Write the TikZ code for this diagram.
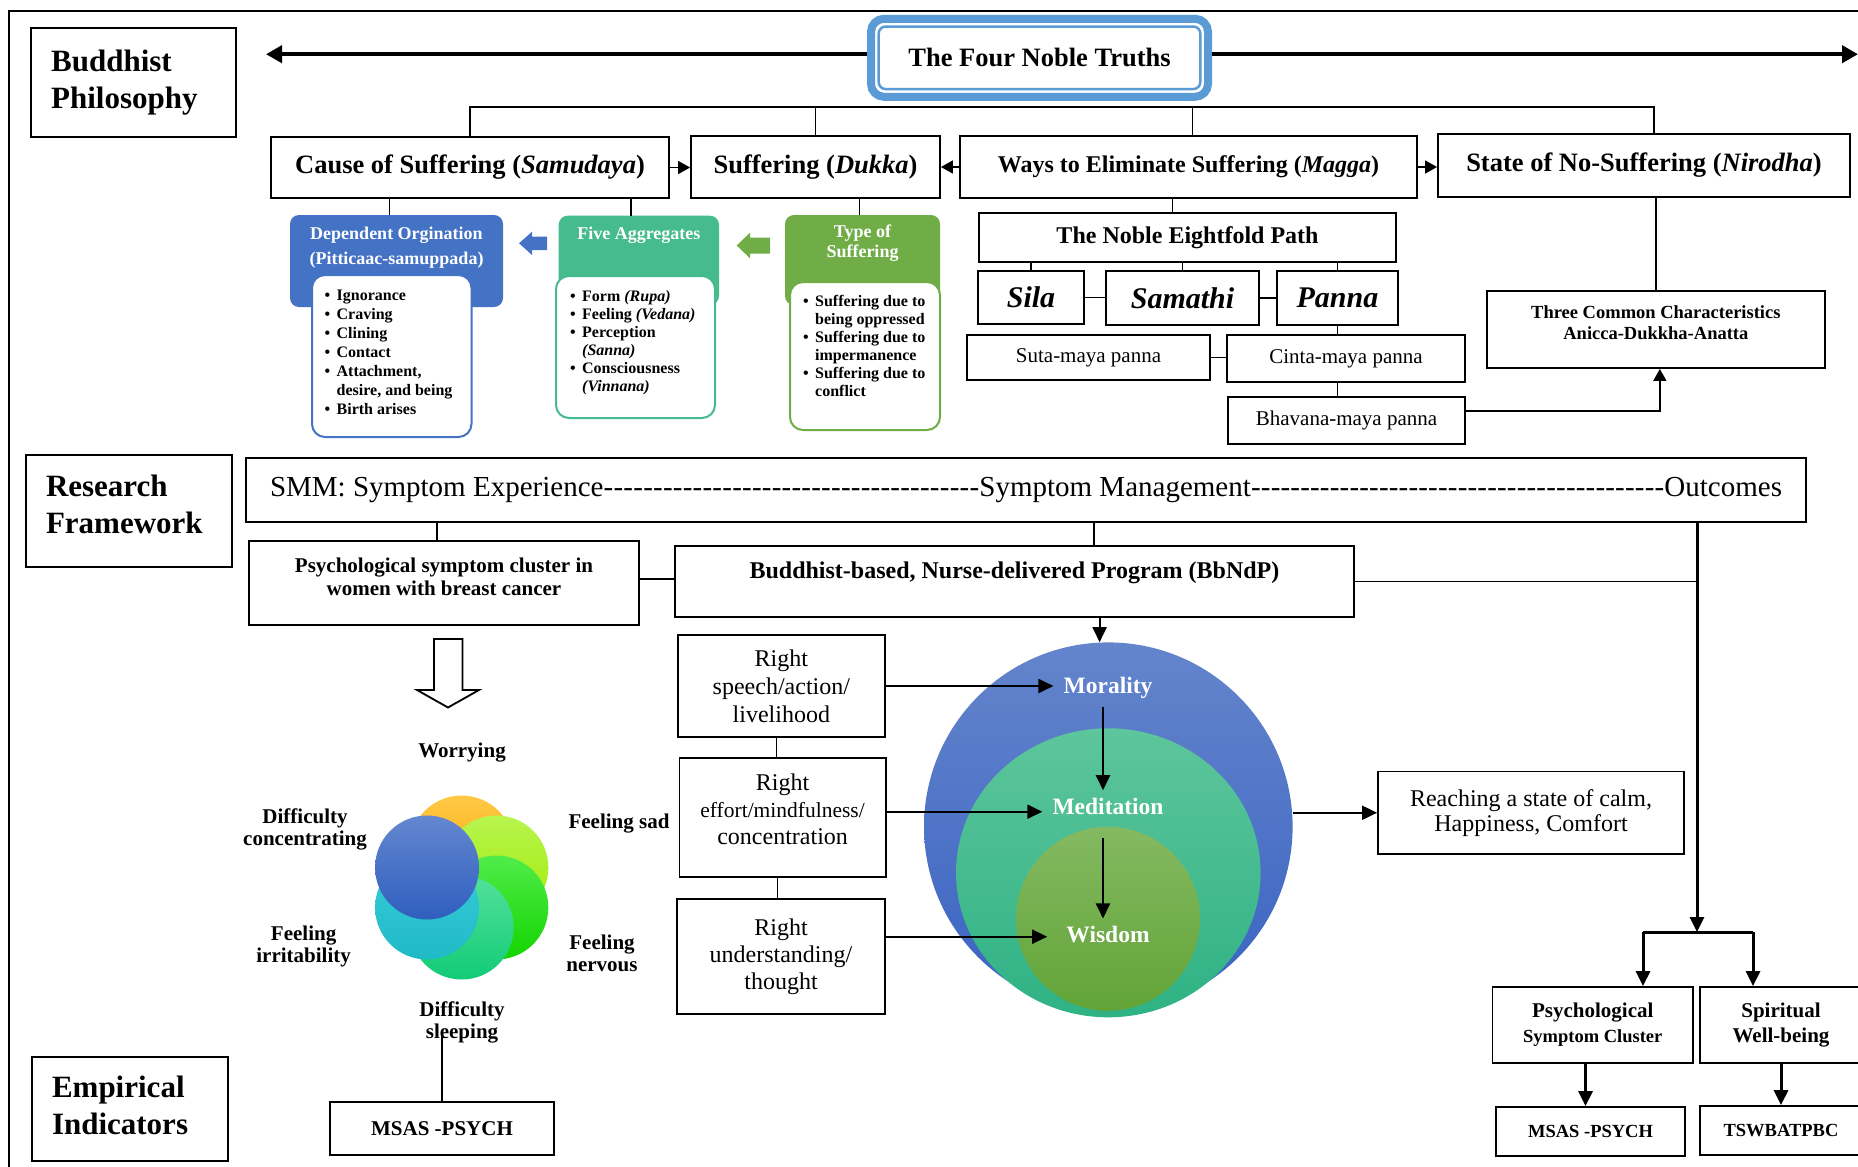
\documentclass[tikz,border=0pt]{standalone}
\usepackage{fontspec}
\setmainfont{Liberation Serif}
\usepackage{xcolor}
\usepackage{tikz}
\usetikzlibrary{shapes.geometric, arrows.meta, positioning, calc}

\definecolor{fntblue}{HTML}{5B9BD5}
\definecolor{dpblue}{HTML}{4472C4}
\definecolor{aggteal}{HTML}{46BB8D}
\definecolor{tsgreen}{HTML}{70AD47}
\definecolor{org1}{HTML}{FFC845}
\definecolor{org2}{HTML}{F5A800}
\definecolor{ygr1}{HTML}{B8F550}
\definecolor{ygr2}{HTML}{A0EA00}
\definecolor{grn1}{HTML}{50EC4A}
\definecolor{grn2}{HTML}{14D400}
\definecolor{mnt1}{HTML}{52E29A}
\definecolor{mnt2}{HTML}{12CB77}
\definecolor{cyn1}{HTML}{38CEDB}
\definecolor{cyn2}{HTML}{20B9C6}
\definecolor{blu1}{HTML}{6487D0}
\definecolor{blu2}{HTML}{2F5EBE}
\definecolor{oblue1}{HTML}{6485CC}
\definecolor{oblue2}{HTML}{3A63C2}
\definecolor{mteal1}{HTML}{5EC59C}
\definecolor{mteal2}{HTML}{2EB284}
\definecolor{igreen1}{HTML}{84B962}
\definecolor{igreen2}{HTML}{62A437}

\newcommand{\fsz}[2]{\fontsize{#1}{#2}\selectfont}
\newcommand{\lift}[1]{\rule[-#1pt]{0pt}{#1pt}}
\newcommand{\bitem}{\makebox[12pt][l]{\textbullet}}
\newcommand{\bcont}{\hspace*{12pt}}
\newcommand{\dashfill}[1]{\xleaders\hbox{-}\hskip 0pt plus #1fil\relax}

\begin{document}
\begin{tikzpicture}[x=1pt, y=-1pt,
  box/.style={draw, line width=1.8pt, fill=white, inner sep=2pt, align=center},
  sect/.style={box, font=\bfseries\fsz{31}{37}, align=left, inner xsep=20pt},
  hdr/.style={rounded corners=9pt, inner sep=0pt},
  hdrtxt/.style={text=white, font=\bfseries\fsz{18}{25}, align=center, inner sep=0pt},
  inbox/.style={fill=white, line width=2pt, rounded corners=13pt, inner sep=0pt},
  lst/.style={font=\bfseries\fsz{16}{18}, align=left, inner sep=0pt, anchor=west},
  pali/.style={box, font=\bfseries\itshape\fsz{30}{36}},
  maya/.style={box, font=\fsz{21}{25}},
  rt/.style={box, font=\fsz{24}{28}},
  sym/.style={font=\bfseries\fsz{21}{22}, align=center, inner sep=0pt},
  virt/.style={text=white, font=\bfseries\fsz{23.5}{28}, inner xsep=10pt, inner ysep=8pt},
  conn/.style={line width=1.6pt},
  arr/.style={line width=1.6pt, -{Triangle[length=12pt,width=13pt]}},
  arr2/.style={line width=2pt, -{Triangle[length=15pt,width=14pt]}},
  tarr/.style={line width=3pt, -{Triangle[length=15pt,width=14pt]}},
  bigarr/.style={line width=4pt, -{Triangle[length=16pt,width=17pt]}}
]
\useasboundingbox (0,0) rectangle (1858,1167);

% Frame
\draw[line width=2pt] (9,1175) -- (9,11) -- (1870,11);

% Buddhist Philosophy
\node[sect, minimum width=205pt, minimum height=109pt, text width=164pt] (bphil) at (133.2,82.5) {Buddhist\\Philosophy};
\node[draw=fntblue, line width=8pt, rounded corners=13pt, fill=white, minimum width=337pt,
  minimum height=78pt, font=\bfseries\fsz{26.5}{32}] (fnt) at (1039.5,57.8) {The Four Noble Truths};
\draw[fntblue, line width=2.5pt, rounded corners=7pt] ([shift={(11.7,11.7)}]fnt.north west)
  rectangle ([shift={(-11.7,-11.7)}]fnt.south east);

\coordinate (tl) at (266,54.2);
\coordinate (tr) at (1858,54.2);
\coordinate (bus) at (0,107);
\draw[bigarr] (fnt.west |- tl) -- (tl);
\draw[bigarr] (fnt.east |- tr) -- (tr);

\node[box, font=\bfseries\fsz{26.5}{32}, minimum width=398pt, minimum height=61pt] (cause) at (470,167.5) {Cause of Suffering (\textit{Samudaya})};
\node[box, font=\bfseries\fsz{26.5}{32}, minimum width=249pt, minimum height=62pt] (suff) at (815.5,167) {Suffering (\textit{Dukka})};
\node[box, font=\bfseries\fsz{24}{29}, minimum width=457pt, minimum height=62pt] (ways) at (1188.5,167) {Ways to Eliminate Suffering (\textit{Magga})};
\node[box, font=\bfseries\fsz{26.5}{32}, minimum width=412pt, minimum height=63pt] (state) at (1644,165.5) {State of No-Suffering (\textit{Nirodha})};

\draw[conn] (cause.north) -- (cause.north |- bus) -- ([xshift=10pt]state.north |- bus) -- ([xshift=10pt]state.north);
\draw[conn] (suff.north) -- (suff.north |- bus);
\draw[conn] ([xshift=4pt]ways.north) -- ([xshift=4pt]ways.north |- bus);
\draw[arr] (cause.east) -- (suff.west |- cause.east);
\draw[arr] (ways.west) -- (suff.east |- ways.west);
\draw[arr] (ways.east) -- (state.west |- ways.east);

% Cause / Suffering detail
\node[hdr, fill=dpblue, minimum width=213pt, minimum height=92pt] (dep) at (396.5,261) {};
\node[hdrtxt] (deptxt) at (396.5,247.5) {Dependent Orgination\\(Pitticaac-samuppada)};
\node[inbox, draw=dpblue, minimum width=159.5pt, minimum height=162pt] (depl) at (391.75,356) {};
\node[lst, font=\bfseries\fsz{16}{19}] (deplst) at (324.5,352) {\bitem Ignorance\\\bitem Craving\\\bitem Clining\\\bitem Contact\\\bitem Attachment,\\\bcont desire, and being\\\bitem Birth arises};

\node[hdr, fill=aggteal, minimum width=160.3pt, minimum height=89.3pt] (agg) at (638.85,260.35) {};
\node[hdrtxt] (aggtxt) at (638.85,235) {Five Aggregates};
\node[inbox, draw=aggteal, minimum width=159pt, minimum height=142pt] (aggl) at (635.5,347) {};
\node[lst] (agglst) at (570,342.5) {\bitem Form \textit{(Rupa)}\\\bitem Feeling \textit{(Vedana)}\\\bitem Perception\\\bcont\textit{(Sanna)}\\\bitem Consciousness\\\bcont\textit{(Vinnana)}};

\node[hdr, fill=tsgreen, minimum width=155pt, minimum height=90pt] (typ) at (862.5,260) {};
\node[hdrtxt, font=\bfseries\fsz{18}{20}] (typtxt) at (862.5,243) {Type of\\Suffering};
\node[inbox, draw=tsgreen, minimum width=150pt, minimum height=148pt] (typl) at (865,356) {};
\node[lst] (typlst) at (803,346) {\bitem Suffering due to\\\bcont being oppressed\\\bitem Suffering due to\\\bcont impermanence\\\bitem Suffering due to\\\bcont conflict};

\fill[dpblue] (519,243.3) -- (532,231.7) -- (532,236.5) -- (547,236.5) -- (547,250) -- (532,250) -- (532,255) -- cycle;
\fill[tsgreen] (736.7,245.5) -- (750,232.7) -- (750,237.5) -- (770,237.5) -- (770,253.5) -- (750,253.5) -- (750,258.3) -- cycle;

\draw[conn] ([xshift=-7pt]dep.north |- cause.south) -- ([xshift=-7pt]dep.north);
\draw[conn] ([xshift=-8pt]agg.north |- cause.south) -- ([xshift=-8pt]agg.north);
\draw[conn] ([xshift=-3pt]typ.north |- suff.south) -- ([xshift=-3pt]typ.north);

% Magga / Nirodha detail
\node[box, font=\bfseries\fsz{24}{29}, minimum width=417pt, minimum height=49pt] (eight) at (1187.5,237.5) {The Noble Eightfold Path};
\node[pali, minimum width=106pt, minimum height=53pt] (sila) at (1031,297.5) {Sila};
\node[pali, minimum width=153pt, minimum height=54pt] (samathi) at (1182.5,298) {Samathi};
\node[pali, minimum width=121pt, minimum height=54pt] (panna) at (1337.5,298) {Panna};
\node[maya, minimum width=243pt, minimum height=45pt] (suta) at (1088.5,357.5) {Suta-maya panna};
\node[maya, minimum width=238pt, minimum height=47pt] (cinta) at (1346,358.5) {Cinta-maya panna};
\node[maya, minimum width=237pt, minimum height=47pt] (bhav) at (1346.5,420.5) {Bhavana-maya panna};
\node[box, font=\bfseries\fsz{18.5}{21}, minimum width=338.3pt, minimum height=77pt] (three) at (1655.85,329.5) {Three Common Characteristics\\Anicca-Dukkha-Anatta\lift{13}};

\draw[conn] ([xshift=-16pt]ways.south) -- ([xshift=-16pt]ways.south |- eight.north);
\foreach \n in {sila, samathi, panna}
  \draw[conn] (\n.north |- eight.south) -- (\n.north);
\draw[conn] (sila.east) -- (samathi.west |- sila.east);
\draw[conn] (samathi.east) -- (panna.west);
\draw[conn] (suta.east) -- (cinta.west |- suta.east);
\draw[conn] (panna.south) -- (panna.south |- cinta.north);
\draw[conn] (panna.south |- cinta.south) -- (panna.south |- bhav.north);
\draw[conn] (three.north |- state.south) -- (three.north);
\draw[arr] ([yshift=9.5pt]bhav.east) -| ([xshift=4pt]three.south);

% Research Framework
\node[sect, minimum width=206pt, minimum height=112pt, text width=166pt] (rfw) at (129,511) {Research\\Framework\lift{14}};
\node[box, font=\fsz{29}{35}, minimum width=1560pt, minimum height=64pt] (smm) at (1026,490)
  {\makebox[1512pt][s]{SMM: Symptom Experience\dashfill{1}Symptom Management\dashfill{1.1}Outcomes}};
\node[box, font=\bfseries\fsz{21}{23}, minimum width=390pt, minimum height=84pt] (psy) at (444,583) {Psychological symptom cluster in\\women with breast cancer\lift{13}};
\node[box, font=\bfseries\fsz{24}{29}, minimum width=679pt, minimum height=71pt] (bbn) at (1014.5,581.5) {Buddhist-based, Nurse-delivered Program (BbNdP)\lift{22}};

\draw[conn] ([xshift=-7pt]psy.north |- smm.south) -- ([xshift=-7pt]psy.north);
\draw[conn] ([yshift=4pt]psy.east) -- ([yshift=4pt]psy.east -| bbn.west);
\draw[conn] ([xshift=79.5pt]bbn.north |- smm.south) -- ([xshift=79.5pt]bbn.north);

% Program: eightfold path into three trainings
\node[rt, minimum width=207.3pt, minimum height=102pt] (spch) at (781.35,686) {Right\\speech/action/\\livelihood};
\node[rt, font=\fsz{24}{27}, minimum width=206.2pt, minimum height=119.4pt] (eff) at (782.6,817.3) {Right\\{\fsz{21.5}{27}effort/mindfulness/}\\concentration\lift{17}};
\node[rt, font=\fsz{24}{27}, minimum width=208pt, minimum height=115pt] (und) at (781,956.5) {Right\\understanding/\\thought};
\draw[conn] ([xshift=-5pt]spch.south) -- ([xshift=-5pt]spch.south |- eff.north);
\draw[conn] ([xshift=-5pt]eff.south) -- ([xshift=-5pt]eff.south |- und.north);

\node[circle, minimum size=368.6pt, inner sep=0pt, top color=oblue1, bottom color=oblue2] (outer) at (1108.3,826.7) {};
\node[ellipse, minimum width=304.6pt, minimum height=289pt, inner sep=0pt, top color=mteal1, bottom color=mteal2] (mid) at (1108.3,872.8) {};
\node[circle, minimum size=184pt, inner sep=0pt, top color=igreen1, bottom color=igreen2] (inner) at (1108,918.8) {};
\node[virt] (mor) at (1108,688) {Morality};
\node[virt] (med) at (1108,806.7) {Meditation};
\node[virt, inner xsep=19pt] (wis) at (1108,935) {Wisdom};

\draw[arr2] ([xshift=-5pt]mor.south) -- ([xshift=-5pt]med.north);
\draw[arr2, shorten <=15pt] ([xshift=-5pt]med.south) -- ([xshift=-5pt]wis.north);
\draw[arr2] (spch.east) -- (mor.west |- spch.east);
\draw[arr2] ([yshift=5.6pt]eff.east) -- ([yshift=5.6pt]eff.east -| med.west);
\draw[arr2] ([yshift=19.8pt]und.east) -- ([yshift=19.8pt]und.east -| wis.west);
\draw[arr2] ([xshift=-8.7pt]outer.north |- bbn.south) -- ([xshift=-8.7pt]outer.north);

\node[box, font=\fsz{24}{25}, minimum width=306pt, minimum height=82.5pt] (reach) at (1531,812.75) {Reaching a state of calm,\\Happiness, Comfort};
\draw[arr2] (reach.west -| outer.east) -- (reach.west);

% Symptom cluster
\draw[line width=1.8pt, fill=white] (434,639) -- (462.5,639) -- (462.5,690) -- (479,690) -- (448,707.5) -- (417,690) -- (434,690) -- cycle;
\foreach \ang/\ca/\cb in {-90/org1/org2, -30/ygr1/ygr2, 30/grn1/grn2, 90/mnt1/mnt2, 150/cyn1/cyn2, 210/blu1/blu2}
  \shade[top color=\ca, bottom color=\cb] ($(461.7,887.5)+(\ang:40)$) circle (52);
\node[sym] (worry) at (462,753) {Worrying};
\node[sym] (dcon) at (305,829) {Difficulty\\concentrating};
\node[sym] (sad) at (619,824) {Feeling sad};
\node[sym] (irr) at (303.6,946) {Feeling\\irritability};
\node[sym] (nerv) at (602,953) {Feeling\\nervous};
\node[sym] (slp) at (462,1022) {Difficulty\\sleeping};

% Outcomes
\coordinate (split) at (1697,932);
\coordinate (brl) at (1643,932);
\coordinate (brr) at (1753,932);
\node[box, font=\bfseries\fsz{21}{25}, minimum width=200.5pt, minimum height=76pt] (psc) at (1592.75,1025) {Psychological\\{\fsz{18.5}{25}Symptom Cluster}};
\node[box, font=\bfseries\fsz{21}{25}, minimum width=162pt, minimum height=76pt] (spw) at (1781,1025) {Spiritual\\Well-being};
\draw[conn] (bbn.east) -- (bbn.east -| split);
\draw[tarr] (split |- smm.south) -- (split);
\draw[line width=3pt] (brl) -- (brr);
\draw[tarr] (brl) -- (brl |- psc.north);
\draw[tarr] (brr) -- (brr |- spw.north);

% Empirical Indicators
\node[sect, minimum width=196pt, minimum height=104.5pt, text width=156pt] (emp) at (130,1109) {Empirical\\Indicators\lift{8}};
\node[box, font=\bfseries\fsz{21}{25}, minimum width=224pt, minimum height=53pt] (msasL) at (442,1128.5) {MSAS -PSYCH};
\node[box, font=\bfseries\fsz{18.5}{22}, minimum width=189pt, minimum height=49pt] (msasR) at (1590.5,1131.5) {MSAS -PSYCH};
\node[box, font=\bfseries\fsz{18.5}{22}, minimum width=162pt, minimum height=49pt] (tsw) at (1781,1130.5) {TSWBATPBC};
\draw[conn] ([yshift=-11pt]msasL.north |- slp.center) -- (msasL.north);
\draw[tarr] ([xshift=-5pt]msasR.north |- psc.south) -- ([xshift=-5pt]msasR.north);
\draw[tarr] (tsw.north |- spw.south) -- (tsw.north);

\end{tikzpicture}
\end{document}
